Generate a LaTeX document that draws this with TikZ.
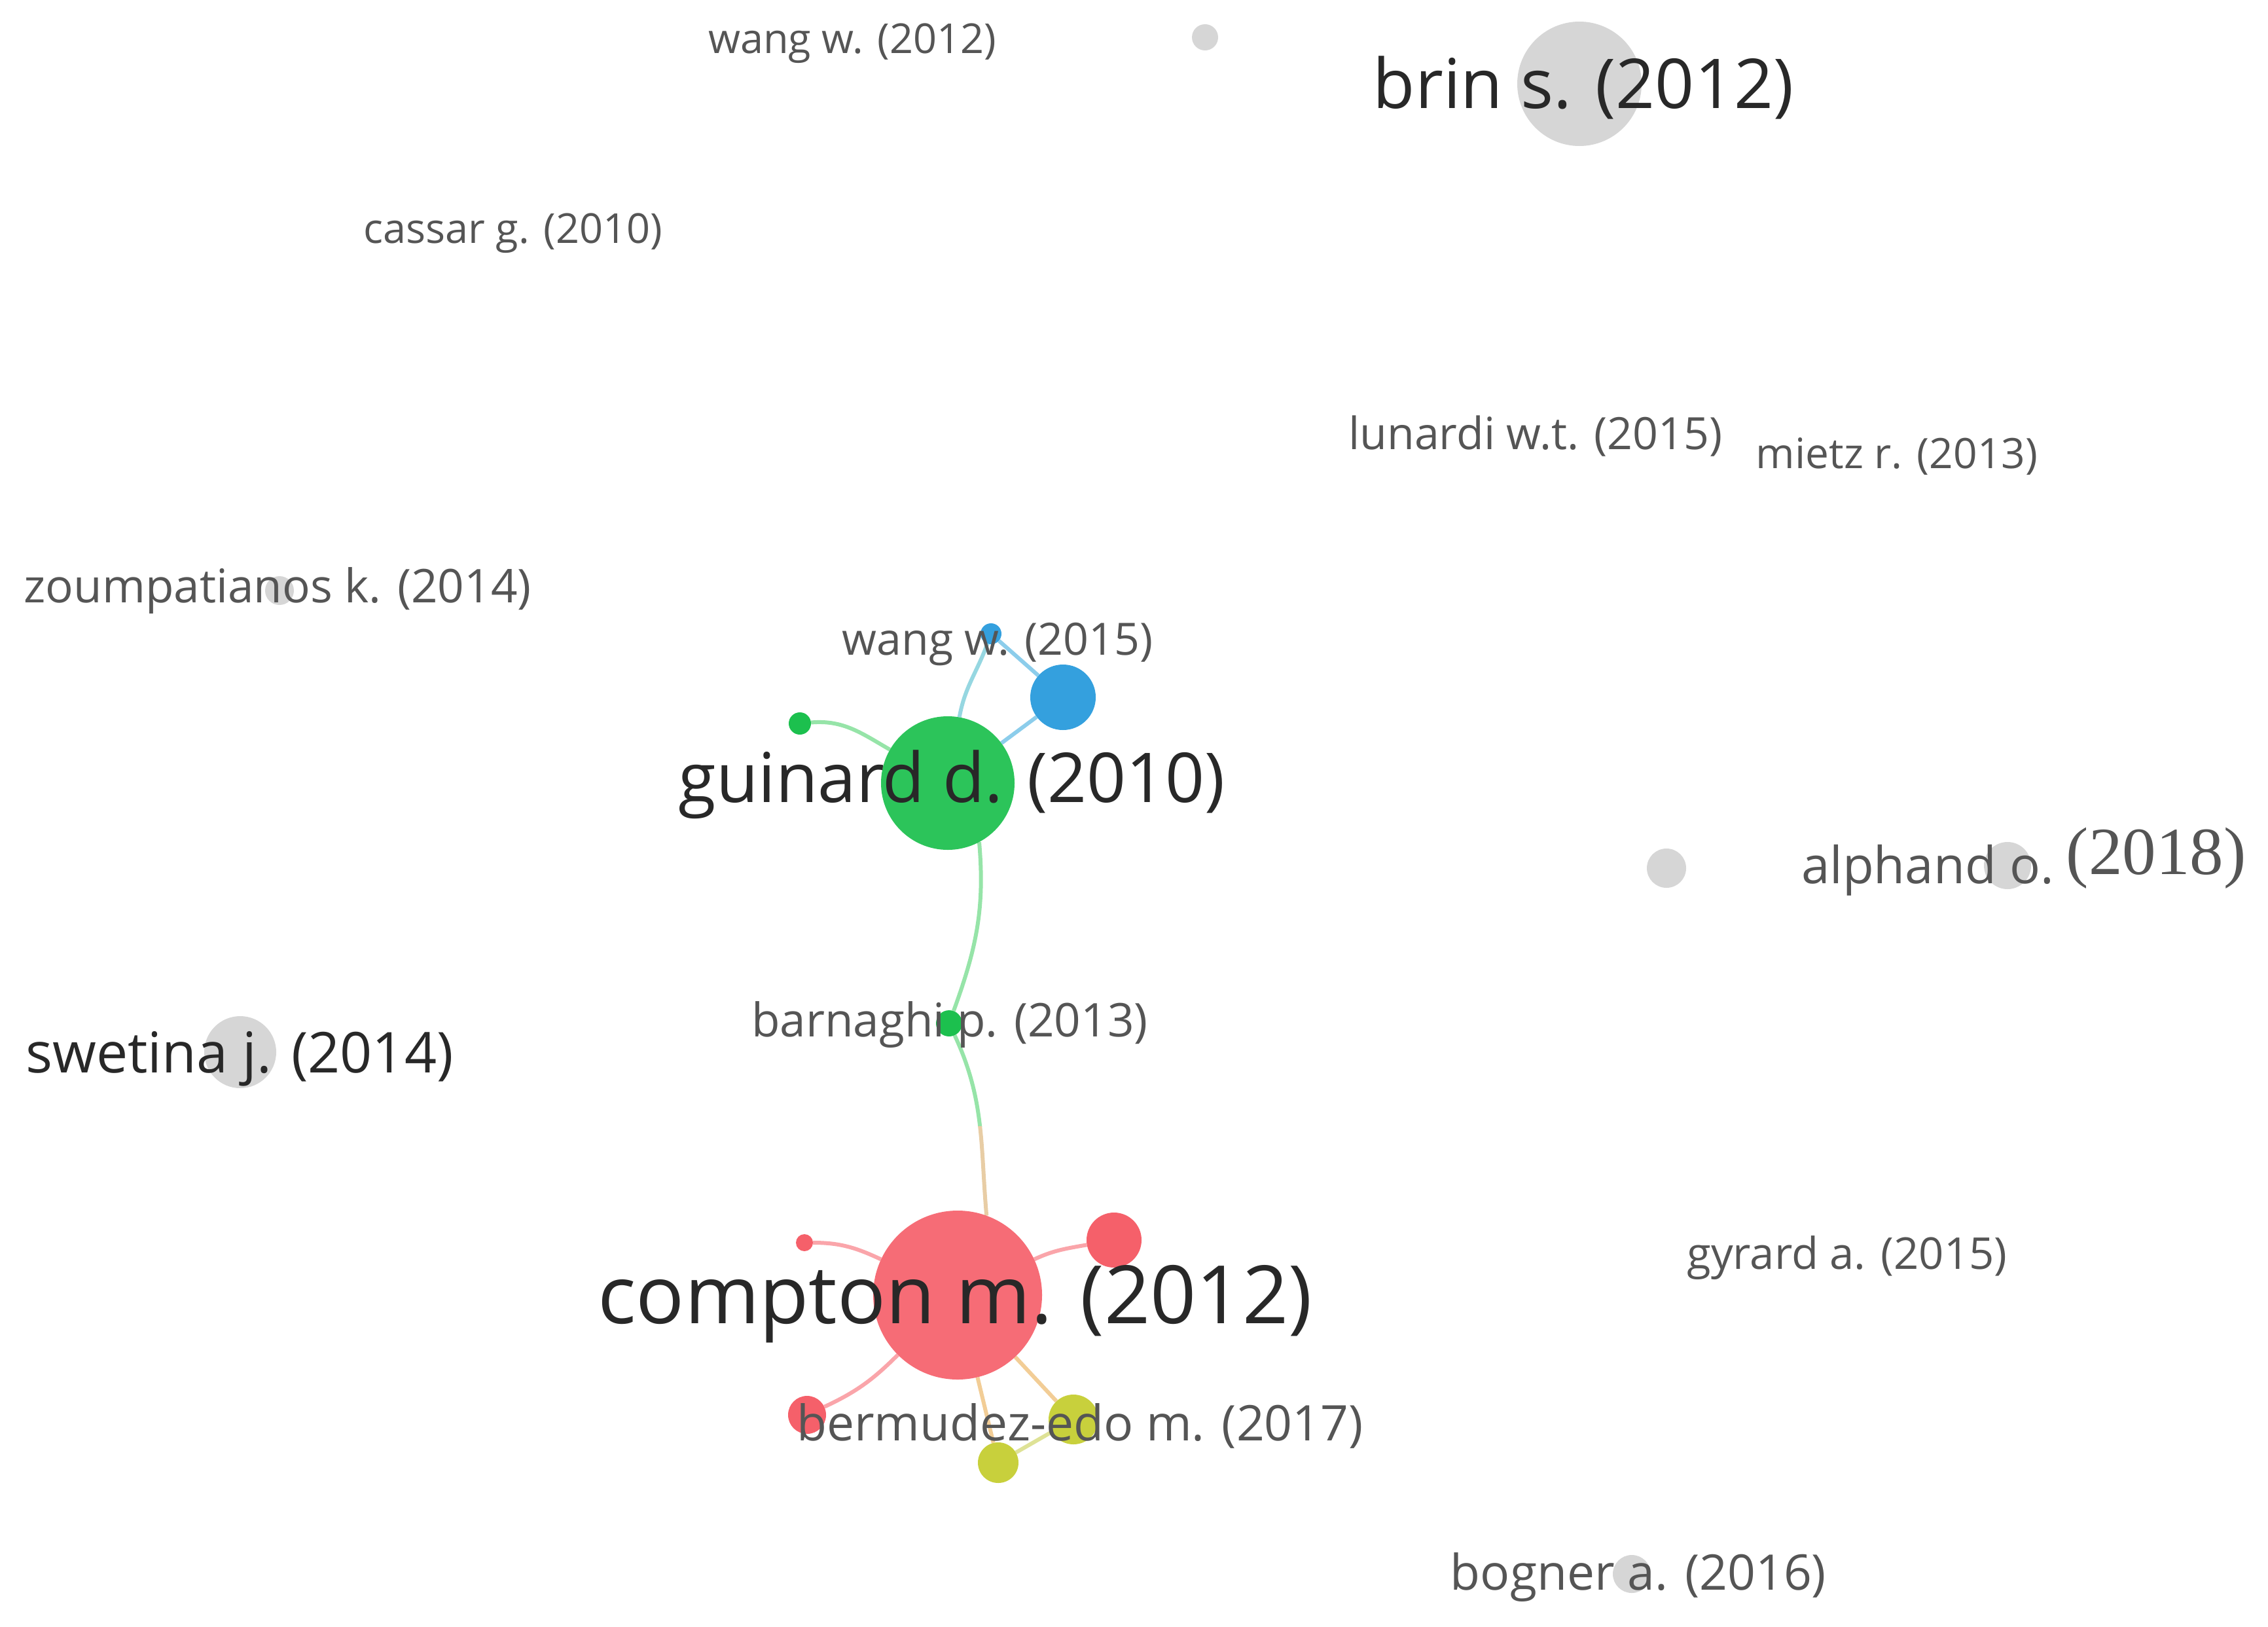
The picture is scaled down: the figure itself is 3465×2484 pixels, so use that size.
\documentclass[tikz,border=0pt]{standalone}
\usepackage{fontspec}
\setmainfont{Open Sans}
\newfontfamily\timesf{Liberation Serif}
\newcommand\labsize[1]{\fontsize{#1}{#1}\selectfont}
\definecolor{cred}{RGB}{245,96,106}
\definecolor{cgreen}{RGB}{28,192,78}
\definecolor{cblue}{RGB}{52,160,222}
\definecolor{cyel}{RGB}{200,208,60}
\definecolor{cgrey}{RGB}{214,214,214}
\definecolor{txt}{RGB}{40,40,40}
\definecolor{txtl}{RGB}{85,85,85}
\definecolor{egreen}{RGB}{150,228,168}
\definecolor{eblue}{RGB}{140,205,235}
\definecolor{ecyan}{RGB}{150,215,225}
\definecolor{ered}{RGB}{250,165,170}
\definecolor{eorange}{RGB}{242,205,150}
\definecolor{etan}{RGB}{232,205,165}
\definecolor{eyel}{RGB}{222,226,150}
\pgfdeclarelayer{bg}
\pgfsetlayers{bg,main}
\begin{document}
\begin{tikzpicture}[x=1pt,y=-1pt,
  circ/.style={circle,inner sep=0pt,draw=none,minimum size=#1},
  lab/.style={inner sep=0pt,text=txtl},
  biglab/.style={inner sep=0pt,text=txt},
  edge/.style={line width=6pt}]
\useasboundingbox (0,0) rectangle (3465,2484);
% circles
\node[circ=40pt,fill=cgrey] (w12) at (1841,57) {};
\node[circ=190pt,fill=cgrey] (brin) at (2413,128) {};
\node[circ=44pt,fill=cgrey] (zou) at (427,902) {};
\node[circ=32pt,fill=cblue] (w15) at (1514,968) {};
\node[circ=100pt,fill=cblue] (b1) at (1624,1065) {};
\node[circ=34pt,fill=cgreen] (g1) at (1222,1105) {};
\node[circ=204pt,fill=cgreen,fill opacity=0.93] (gui) at (1448,1196) {};
\node[circ=60pt,fill=cgrey] (gr1) at (2546,1326) {};
\node[circ=72pt,fill=cgrey] (alp) at (3067,1322) {};
\node[circ=110pt,fill=cgrey] (swe) at (367,1607) {};
\node[circ=40pt,fill=cgreen] (barn) at (1450,1563) {};
\node[circ=258pt,fill=cred,fill opacity=0.92] (comp) at (1463,1978) {};
\node[circ=26pt,fill=cred] (r1) at (1229,1898) {};
\node[circ=84pt,fill=cred] (r2) at (1702,1894) {};
\node[circ=58pt,fill=cred] (r3) at (1233,2161) {};
\node[circ=76pt,fill=cyel] (y1) at (1640,2168) {};
\node[circ=62pt,fill=cyel] (y2) at (1525,2234) {};
\node[circ=58pt,fill=cgrey] (bog) at (2493,2404) {};
% edges
\begin{pgfonlayer}{bg}
\draw[edge,egreen] (g1) to[out=5,in=150] (gui);
\draw[edge,ecyan] (gui) to[out=80,in=250] (w15);
\draw[edge,eblue] (gui) -- (b1);
\draw[edge,eblue] (w15) -- (b1);
\draw[edge,egreen] (gui.-62) to[out=-85,in=70] (barn);
\begin{scope}
\clip (0,0) rectangle (3465,1720);
\draw[edge,egreen] (barn) to[out=-65,in=95] (comp.70);
\end{scope}
\begin{scope}
\clip (0,1720) rectangle (3465,2484);
\draw[edge,etan] (barn) to[out=-65,in=95] (comp.70);
\end{scope}
\draw[edge,ered] (r1) to[out=0,in=155] (comp);
\draw[edge,ered] (comp) to[out=25,in=190] (r2);
\draw[edge,ered] (comp) to[out=225,in=25] (r3);
\draw[edge,eorange] (comp) -- (y1);
\draw[edge,eorange] (comp) -- (y2);
\draw[edge,eyel] (y2) -- (y1);
\end{pgfonlayer}
% labels
\node[lab,font=\labsize{63}] (lw12) at (1302,66) {wang w. (2012)};
\node[biglab,font=\labsize{105}] (lbrin) at (2419,134) {brin s. (2012)};
\node[lab,font=\labsize{63}] (lcas) at (784,356) {cassar g. (2010)};
\node[lab,font=\labsize{68}] (llun) at (2346,666) {lunardi w.t. (2015)};
\node[lab,font=\labsize{64}] (lmie) at (2898,697) {mietz r. (2013)};
\node[lab,font=\labsize{71}] (lzou) at (424,902) {zoumpatianos k. (2014)};
\node[lab,font=\labsize{68}] (lw15) at (1524,984) {wang w. (2015)};
\node[biglab,font=\labsize{105}] (lgui) at (1454,1198) {guinard d. (2010)};
\node[lab,font=\labsize{78}] (lalp) at (2945,1329) {alphand o.};
\node[lab,font=\timesf\labsize{103}] (lalpy) at (3294,1311) {(2018)};
\node[biglab,font=\labsize{86}] (lswe) at (366,1617) {swetina j. (2014)};
\node[lab,font=\labsize{71}] (lbarn) at (1451,1565) {barnaghi p. (2013)};
\node[lab,font=\labsize{67}] (lgyr) at (2822,1921) {gyrard a. (2015)};
\node[biglab,font=\labsize{123}] (lcomp) at (1459,1992) {compton m. (2012)};
\node[lab,font=\labsize{75}] (lber) at (1650,2178) {bermudez-edo m. (2017)};
\node[lab,font=\labsize{75}] (lbog) at (2503,2409) {bogner a. (2016)};
\end{tikzpicture}
\end{document}
